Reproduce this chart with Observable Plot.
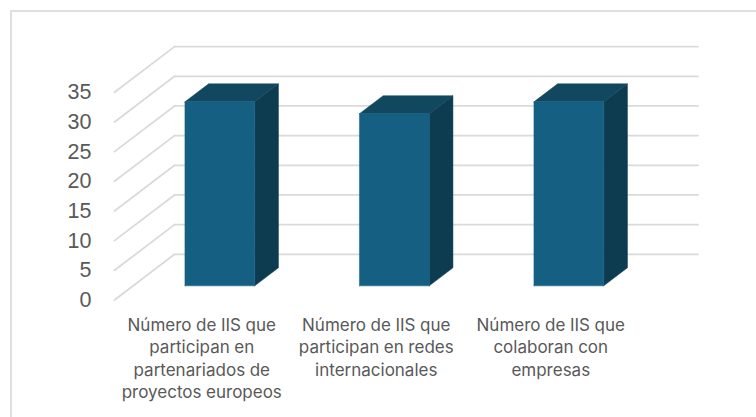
<!DOCTYPE html>
<html><head><meta charset="utf-8">
<script src="https://cdn.jsdelivr.net/npm/d3@7"></script>
<script src="https://cdn.jsdelivr.net/npm/@observablehq/plot@0.6"></script>
<style>
html,body{margin:0;padding:0;background:#fff;overflow:hidden}
#frame{position:absolute;left:10px;top:10px;right:0;bottom:0;border-left:2px solid #dfdfdf;border-top:2px solid #dfdfdf}
#chart{position:absolute;left:0;top:0}
svg{display:block}
</style></head><body>
<div id="frame"></div><div id="chart"></div>
<script>
const categories = [
  "Número de IIS que\nparticipan en\npartenariados de\nproyectos europeos",
  "Número de IIS que\nparticipan en redes\ninternacionales",
  "Número de IIS que\ncolaboran con\nempresas"
];
const values = [31, 29, 31];
const yTicks = [0, 5, 10, 15, 20, 25, 30, 35];

// oblique projection: one unit of depth, expressed in data units
const depthX = 0.344, depthY = 7.7;
const barWidth = 0.4, barFront = 0.31, barBack = 0.705, barShift = -0.003;
const at = (x, y, d) => ({x: x + d * depthX, y: y + d * depthY});

const wallLines = yTicks.map(v => [at(0, v, 1), at(3, v, 1)]);
const floorLines = yTicks.map(v => [at(0, v, 0), at(0, v, 1)]);

const faces = values.flatMap((v, i) => {
  const l = i + 0.5 + barShift - barWidth / 2, r = i + 0.5 + barShift + barWidth / 2;
  return [
    {fill: "#0d3c50", pts: [at(r, 0, barFront), at(r, 0, barBack), at(r, v, barBack), at(r, v, barFront)]},
    {fill: "#11475f", pts: [at(l, v, barFront), at(r, v, barFront), at(r, v, barBack), at(l, v, barBack)]},
    {fill: "#156082", pts: [at(l, 0, barFront), at(r, 0, barFront), at(r, v, barFront), at(l, v, barFront)]}
  ];
});

const grid = {stroke: "#dadada", strokeWidth: 1.8, curve: "linear"};
const plot = Plot.plot({
  width: 756, height: 417,
  marginLeft: 114, marginRight: 118.5, marginTop: 91.8, marginBottom: 117.5,
  x: {type: "linear", domain: [0, 3]},
  y: {domain: [0, 35]},
  style: {background: "transparent"},
  marks: [
    ...wallLines.map(p => Plot.line(p, {x: "x", y: "y", ...grid})),
    ...floorLines.map(p => Plot.line(p, {x: "x", y: "y", ...grid})),
    ...faces.map(f => Plot.line([...f.pts, f.pts[0]], {x: "x", y: "y", fill: f.fill, stroke: f.fill, strokeWidth: 0.5})),
    Plot.axisY({ticks: yTicks, tickSize: 0, tickPadding: 23, label: null, fontSize: 21.5,
      fontFamily: "Liberation Sans", color: "#595959"}),
    Plot.axisX({ticks: [0.5, 1.5, 2.5], tickSize: 0, tickPadding: 14.5, label: null,
      tickFormat: d => categories[d - 0.5], fontSize: 17, lineHeight: 1.325,
      fontFamily: "Inter", color: "#595959"})
  ]
});
document.getElementById("chart").append(plot);
</script></body></html>
